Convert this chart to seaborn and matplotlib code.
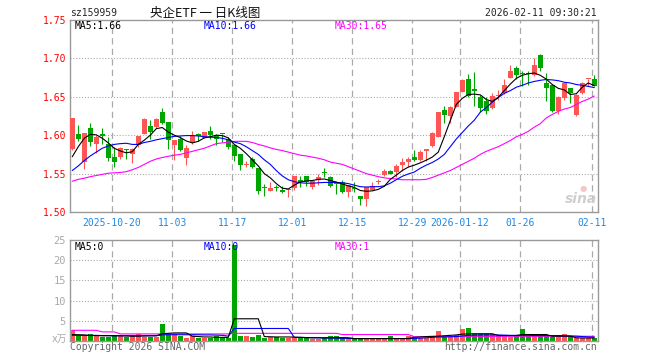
import numpy as np
import matplotlib
matplotlib.use('Agg')
import matplotlib.pyplot as plt
import seaborn as sns

# ---------------- data ----------------
opens = [1.5815, 1.6013, 1.565, 1.610, 1.588, 1.601, 1.589, 1.5715, 1.5715, 1.5816,
         1.575, 1.5868, 1.6022, 1.6118, 1.611, 1.6298, 1.6167, 1.5868, 1.5956, 1.5702,
         1.5912, 1.601, 1.5965, 1.6053, 1.600, 1.6018, 1.5956, 1.5868, 1.575, 1.5614,
         1.5684, 1.557, 1.5315, 1.5276, 1.5312, 1.5285, 1.5290, 1.5307, 1.5421, 1.5465,
         1.532, 1.5417, 1.551, 1.546, 1.5364, 1.5386, 1.5254, 1.5302, 1.521, 1.5175,
         1.5285, 1.5392, 1.5487, 1.554, 1.5518, 1.5618, 1.5649, 1.5715, 1.568, 1.579,
         1.5855, 1.5978, 1.6329, 1.6254, 1.6373, 1.6561, 1.6737, 1.660, 1.650, 1.644,
         1.635, 1.6515, 1.655, 1.675, 1.688, 1.6802, 1.6805, 1.678, 1.705, 1.668,
         1.666, 1.631, 1.648, 1.661, 1.626, 1.655, 1.6728, 1.6733]
highs = [1.6225, 1.613, 1.603, 1.6162, 1.600, 1.609, 1.598, 1.5846, 1.5846, 1.5816,
         1.583, 1.5995, 1.622, 1.620, 1.623, 1.635, 1.6167, 1.5934, 1.599, 1.587,
         1.6053, 1.6035, 1.6048, 1.6118, 1.602, 1.6018, 1.5978, 1.5868, 1.575, 1.5658,
         1.5715, 1.557, 1.5364, 1.5395, 1.535, 1.534, 1.5300, 1.5474, 1.5474, 1.5465,
         1.5405, 1.550, 1.557, 1.5474, 1.5395, 1.542, 1.5355, 1.5395, 1.521, 1.532,
         1.5395, 1.543, 1.556, 1.5545, 1.5627, 1.5706, 1.5715, 1.5803, 1.5803, 1.582,
         1.6044, 1.6307, 1.6382, 1.6378, 1.6560, 1.6728, 1.6800, 1.682, 1.652, 1.650,
         1.655, 1.659, 1.673, 1.692, 1.690, 1.683, 1.684, 1.701, 1.706, 1.681,
         1.667, 1.651, 1.669, 1.662, 1.653, 1.669, 1.6735, 1.679]
lows = [1.5812, 1.5925, 1.556, 1.586, 1.577, 1.589, 1.567, 1.5583, 1.5693, 1.5693,
        1.5636, 1.585, 1.601, 1.5956, 1.610, 1.614, 1.5825, 1.568, 1.579, 1.5618,
        1.589, 1.593, 1.596, 1.5956, 1.5868, 1.5912, 1.5825, 1.567, 1.5553, 1.5583,
        1.557, 1.5232, 1.5202, 1.5268, 1.5268, 1.5245, 1.5189, 1.5285, 1.532, 1.5342,
        1.530, 1.535, 1.545, 1.532, 1.524, 1.5245, 1.520, 1.5254, 1.5088, 1.508,
        1.529, 1.5364, 1.547, 1.549, 1.545, 1.553, 1.5583, 1.567, 1.566, 1.567,
        1.5846, 1.5975, 1.6154, 1.6154, 1.637, 1.656, 1.6496, 1.638, 1.630, 1.627,
        1.634, 1.646, 1.654, 1.675, 1.673, 1.664, 1.666, 1.677, 1.683, 1.645,
        1.630, 1.628, 1.646, 1.642, 1.625, 1.654, 1.6636, 1.6636]
closes = [1.6225, 1.5947, 1.603, 1.5905, 1.598, 1.599, 1.570, 1.565, 1.5833, 1.5810,
          1.5816, 1.5991, 1.6206, 1.6044, 1.621, 1.6154, 1.5934, 1.5934, 1.5803, 1.5833,
          1.6009, 1.599, 1.6044, 1.600, 1.5956, 1.6012, 1.5846, 1.5728, 1.5618, 1.5620,
          1.5583, 1.5276, 1.5310, 1.5311, 1.5307, 1.5254, 1.5296, 1.5465, 1.5395, 1.5395,
          1.540, 1.5452, 1.5505, 1.5333, 1.5359, 1.5254, 1.5351, 1.5297, 1.5167, 1.532,
          1.5342, 1.5397, 1.554, 1.5496, 1.5605, 1.5649, 1.5684, 1.568, 1.578, 1.5816,
          1.603, 1.6298, 1.6263, 1.6373, 1.6557, 1.6724, 1.6504, 1.658, 1.636, 1.632,
          1.651, 1.6522, 1.665, 1.684, 1.679, 1.6797, 1.6800, 1.692, 1.688, 1.662,
          1.631, 1.650, 1.668, 1.655, 1.652, 1.668, 1.6733, 1.6636]

ma5 = [1.572, 1.585, 1.596, 1.601, 1.6005, 1.596, 1.590, 1.583, 1.5795, 1.577,
       1.5785, 1.588, 1.5935, 1.600, 1.6085, 1.610, 1.604, 1.600, 1.597, 1.5925,
       1.590, 1.592, 1.5965, 1.598, 1.600, 1.5995, 1.5965, 1.588, 1.583, 1.576,
       1.568, 1.560, 1.550, 1.5445, 1.537, 1.531, 1.530, 1.535, 1.539, 1.5405,
       1.541, 1.5425, 1.543, 1.541, 1.539, 1.5365, 1.534, 1.532, 1.528, 1.527,
       1.5275, 1.5295, 1.5335, 1.5425, 1.548, 1.554, 1.5585, 1.561, 1.564, 1.5675,
       1.5715, 1.578, 1.598, 1.619, 1.640, 1.648, 1.653, 1.6535, 1.6525, 1.6465,
       1.644, 1.6495, 1.658, 1.6665, 1.674, 1.678, 1.680, 1.681, 1.678, 1.673,
       1.666, 1.661, 1.659, 1.653, 1.654, 1.6625, 1.668, 1.6645]
ma10 = [1.554, 1.560, 1.567, 1.573, 1.578, 1.583, 1.586, 1.588, 1.589, 1.5895,
        1.588, 1.588, 1.5905, 1.592, 1.594, 1.5955, 1.597, 1.5985, 1.599, 1.5995,
        1.5995, 1.599, 1.598, 1.5975, 1.597, 1.596, 1.594, 1.591, 1.589, 1.585,
        1.580, 1.575, 1.568, 1.562, 1.554, 1.547, 1.542, 1.5395, 1.538, 1.5375,
        1.5375, 1.538, 1.5385, 1.5385, 1.5385, 1.538, 1.537, 1.535, 1.533, 1.5325,
        1.533, 1.533, 1.534, 1.5375, 1.542, 1.5465, 1.5495, 1.552, 1.557, 1.561,
        1.5645, 1.569, 1.575, 1.585, 1.595, 1.6035, 1.612, 1.6195, 1.630, 1.636,
        1.643, 1.649, 1.6545, 1.658, 1.6625, 1.665, 1.668, 1.670, 1.6715, 1.6725,
        1.672, 1.671, 1.669, 1.668, 1.666, 1.665, 1.6635, 1.662]
ma30 = [1.540, 1.5425, 1.544, 1.546, 1.5475, 1.549, 1.5505, 1.551, 1.5515, 1.5525,
        1.555, 1.558, 1.562, 1.566, 1.569, 1.571, 1.5725, 1.574, 1.575, 1.577,
        1.579, 1.581, 1.583, 1.586, 1.589, 1.590, 1.591, 1.592, 1.592, 1.592,
        1.5905, 1.588, 1.586, 1.5835, 1.5815, 1.580, 1.578, 1.576, 1.574, 1.573,
        1.5715, 1.570, 1.568, 1.565, 1.5635, 1.562, 1.559, 1.556, 1.553, 1.550,
        1.548, 1.546, 1.5445, 1.5435, 1.543, 1.542, 1.542, 1.542, 1.542, 1.5425,
        1.545, 1.548, 1.551, 1.554, 1.558, 1.562, 1.566, 1.570, 1.575, 1.579,
        1.582, 1.585, 1.589, 1.593, 1.598, 1.601, 1.605, 1.6105, 1.615, 1.6225,
        1.627, 1.631, 1.634, 1.636, 1.640, 1.644, 1.647, 1.651]

volume = [2.7, 1.33, 1.17, 1.83, 1.17, 1.0, 1.0, 1.17, 1.17, 1.0,
          1.17, 1.67, 1.0, 1.0, 1.0, 4.17, 1.67, 1.83, 1.33, 0.83,
          1.17, 0.67, 0.83, 0.83, 1.17, 0.83, 0.83, 23.67, 1.17, 1.17,
          1.0, 1.42, 0.83, 1.0, 1.0, 0.83, 0.83, 0.83, 0.67, 0.67,
          0.5, 0.5, 0.83, 1.17, 1.17, 0.67, 0.67, 0.5, 0.5, 0.83,
          0.5, 0.5, 0.5, 1.17, 0.83, 0.83, 1.17, 0.83, 0.83, 0.83,
          1.17, 2.5, 1.0, 1.0, 1.42, 2.92, 3.17, 1.83, 1.83, 1.83,
          1.67, 1.17, 1.0, 1.0, 1.58, 2.92, 1.17, 1.42, 1.17, 1.17,
          1.0, 1.33, 1.83, 1.17, 0.67, 0.67, 0.67, 0.83]
vol_ma5 = [1.6, 1.55, 1.5, 1.35, 1.35, 1.3, 1.3, 1.3, 1.3, 1.25,
           1.2, 1.2, 1.25, 1.3, 1.3, 1.8, 1.9, 2.0, 2.0, 2.0,
           1.2, 1.1, 1.0, 1.0, 0.9, 0.9, 0.9, 5.5, 5.5, 5.5,
           5.5, 5.5, 1.1, 1.05, 1.0, 1.0, 1.0, 0.95, 0.9, 0.85,
           0.8, 0.8, 0.8, 0.83, 0.83, 0.83, 0.8, 0.6, 0.6, 0.6,
           0.6, 0.6, 0.6, 0.6, 0.6, 0.6, 0.6, 0.9, 1.0, 1.1,
           1.15, 1.2, 1.3, 1.4, 1.5, 1.7, 1.75, 1.8, 1.8, 1.8,
           1.8, 1.35, 1.35, 1.35, 1.35, 1.6, 1.6, 1.6, 1.6, 1.6,
           1.2, 1.2, 1.2, 1.2, 0.8, 0.75, 0.75, 0.75]
vol_ma10 = [1.4, 1.4, 1.4, 1.4, 1.4, 1.35, 1.35, 1.3, 1.3, 1.3,
            1.3, 1.3, 1.3, 1.3, 1.3, 1.5, 1.55, 1.55, 1.55, 1.55,
            1.55, 1.55, 1.5, 1.5, 1.45, 1.4, 1.2, 3.1, 3.1, 3.1,
            3.1, 3.1, 3.1, 3.1, 3.1, 3.1, 3.1, 0.9, 0.9, 0.85,
            0.8, 0.8, 0.75, 0.7, 0.7, 0.65, 0.65, 0.6, 0.6, 0.6,
            0.6, 0.6, 0.6, 0.6, 0.6, 0.6, 0.6, 0.65, 0.7, 0.8,
            0.9, 1.0, 1.0, 1.05, 1.1, 1.25, 1.4, 1.45, 1.5, 1.5,
            1.5, 1.5, 1.45, 1.4, 1.4, 1.4, 1.4, 1.35, 1.35, 1.35,
            1.35, 1.35, 1.3, 1.25, 1.2, 1.1, 1.0, 0.95]
vol_ma30 = [2.65, 2.65, 2.65, 2.65, 2.65, 2.25, 2.25, 2.25, 1.75, 1.75,
            1.75, 1.75, 1.75, 1.75, 1.75, 1.75, 1.75, 1.75, 1.75, 1.75,
            1.75, 1.75, 1.75, 1.75, 1.75, 1.75, 1.75, 1.9, 1.9, 1.9,
            1.9, 1.9, 1.9, 1.9, 1.9, 1.9, 1.9, 1.9, 1.9, 1.9,
            1.9, 1.9, 1.9, 1.9, 1.9, 1.6, 1.6, 1.6, 1.6, 1.6,
            1.6, 1.6, 1.6, 1.6, 1.6, 1.6, 1.6, 1.05, 1.05, 1.05,
            1.05, 1.1, 1.1, 1.1, 1.1, 1.15, 1.15, 1.15, 1.15, 1.15,
            1.15, 1.15, 1.15, 1.17, 1.17, 1.17, 1.17, 1.17, 1.17, 1.17,
            1.17, 1.17, 1.17, 1.17, 1.17, 1.17, 1.17, 1.17]

tick_index = [7, 17, 27, 37, 47, 57, 65, 75, 87]
tick_labels = ['2025-10-20', '11-03', '11-17', '12-01', '12-15', '12-29',
               '2026-01-12', '01-26', '02-11']
price_ticks = [1.50, 1.55, 1.60, 1.65, 1.70, 1.75]
price_tick_labels = ['1.50', '1.55', '1.60', '1.65', '1.70', '1.75']
vol_ticks = [5, 10, 15, 20, 25]
vol_tick_labels = ['5', '10', '15', '20', '25']

# ---------------- style ----------------
sns.set_style('white')
plt.rcParams['font.family'] = ['DejaVu Sans Mono', 'Noto Sans CJK SC']
plt.rcParams['font.size'] = 7

RED = '#ff5555'
GREEN = '#00a600'
GRID = '#aaaaaa'
FRAME = '#999999'
LW = 0.8

W, H = 660, 360
fig = plt.figure(figsize=(6.6, 3.6), dpi=100)
fig.patch.set_facecolor('white')


def fx(px):
    return px / W


def fy(py):
    return 1 - py / H


ax = fig.add_axes([fx(70), fy(212), 528 / W, 192 / H])
vax = fig.add_axes([fx(70), fy(341), 528 / W, 101 / H])

o = np.array(opens)
c = np.array(closes)
hi = np.array(highs)
lo = np.array(lows)
idx = np.arange(len(c))
up = c >= o
colors = np.where(up, RED, GREEN)
grid_pos = np.array(tick_index) - 0.36

for a in (ax, vax):
    a.set_facecolor('white')
    a.set_xlim(-0.38, 87.62)
    for s in a.spines.values():
        s.set_color(FRAME)
        s.set_linewidth(1.0)
        s.set_visible(True)
    for p in grid_pos:
        a.axvline(p, color=GRID, lw=0.9, ls=(0, (5, 3.4)), zorder=0)

# ---------------- price panel ----------------
ax.set_ylim(1.50, 1.75)
for y in price_ticks[1:-1]:
    ax.axhline(y, color=GRID, lw=0.8, ls=(0, (1, 1.6)), zorder=0)

ax.vlines(idx, lo, hi, colors=colors, lw=LW, zorder=2)
body_bottom = np.minimum(o, c)
body_h = np.maximum(np.abs(c - o), 0.0013)
ax.bar(idx, body_h, bottom=body_bottom, width=0.8, color=colors,
       linewidth=0, zorder=3)

sns.lineplot(x=idx, y=ma30, ax=ax, color='#ff00ff', linewidth=LW,
             estimator=None, sort=False, legend=False, zorder=4)
sns.lineplot(x=idx, y=ma10, ax=ax, color='#0000ff', linewidth=LW,
             estimator=None, sort=False, legend=False, zorder=5)
sns.lineplot(x=idx, y=ma5, ax=ax, color='#000000', linewidth=LW,
             estimator=None, sort=False, legend=False, zorder=6)

ax.set_yticks(price_ticks)
ax.set_yticklabels(price_tick_labels, color='#ff0000', fontsize=7)
ax.set_xticks(grid_pos)
ax.set_xticklabels(tick_labels, color='#1e88e5', fontsize=7)
ax.tick_params(axis='y', length=0, pad=2.5)
ax.tick_params(axis='x', length=0, pad=4)
ax.set_xlabel('')
ax.set_ylabel('')

# ---------------- volume panel ----------------
vax.set_ylim(0, 25)
for y in vol_ticks[:-1]:
    vax.axhline(y, color=GRID, lw=0.8, ls=(0, (1, 1.6)), zorder=0)
vax.bar(idx, volume, width=0.8, color=colors, linewidth=0, zorder=2)
sns.lineplot(x=idx, y=vol_ma30, ax=vax, color='#ff00ff', linewidth=LW,
             estimator=None, sort=False, legend=False, zorder=4)
sns.lineplot(x=idx, y=vol_ma10, ax=vax, color='#0000ff', linewidth=LW,
             estimator=None, sort=False, legend=False, zorder=5)
sns.lineplot(x=idx, y=vol_ma5, ax=vax, color='#000000', linewidth=LW,
             estimator=None, sort=False, legend=False, zorder=6)
vax.set_yticks(vol_ticks)
vax.set_yticklabels(vol_tick_labels, color='#aaaaaa', fontsize=7.5)
vax.set_xticks([])
vax.tick_params(axis='y', length=0, pad=3)
vax.set_xlabel('')
vax.set_ylabel('')

# ---------------- texts ----------------
fig.text(fx(70), fy(13), 'sz159959', fontsize=7, va='center', ha='left')
fig.text(fx(150), fy(13), '央企ETF 一 日K线图', family=['Noto Sans CJK SC'],
         fontsize=9, va='center', ha='left', color='#111111')
fig.text(fx(597), fy(13), '2026-02-11 09:30:21', fontsize=7, va='center', ha='right')

fig.text(fx(75), fy(26), 'MA5:1.66', color='#000000', fontsize=7, va='center')
fig.text(fx(204), fy(26), 'MA10:1.66', color='#0000ff', fontsize=7, va='center')
fig.text(fx(335), fy(26), 'MA30:1.65', color='#ff00ff', fontsize=7, va='center')

fig.text(fx(75), fy(246.5), 'MA5:0', color='#000000', fontsize=7, va='center')
fig.text(fx(204), fy(246.5), 'MA10:0', color='#0000ff', fontsize=7, va='center')
fig.text(fx(335), fy(246.5), 'MA30:1', color='#ff00ff', fontsize=7, va='center')

fig.text(fx(67), fy(339), 'x万', color='#aaaaaa', fontsize=7, va='center', ha='right',
         family=['DejaVu Sans', 'Noto Sans CJK SC'])
fig.text(fx(70), fy(346.5), 'Copyright 2026 SINA.COM', color='#666666', fontsize=7,
         va='center', ha='left')
fig.text(fx(597), fy(346.5), 'http://finance.sina.com.cn', color='#666666', fontsize=7,
         va='center', ha='right')

fig.text(fx(597), fy(199), 'sina', color='#cfcfcf', fontsize=10, fontweight='bold',
         style='italic', va='center', ha='right', family=['DejaVu Sans'])
fig.text(fx(583), fy(188), '●', color='#f3c8c8', fontsize=6, va='center', ha='center',
         family=['DejaVu Sans'])

fig.savefig('out.png', dpi=100, facecolor='white')
